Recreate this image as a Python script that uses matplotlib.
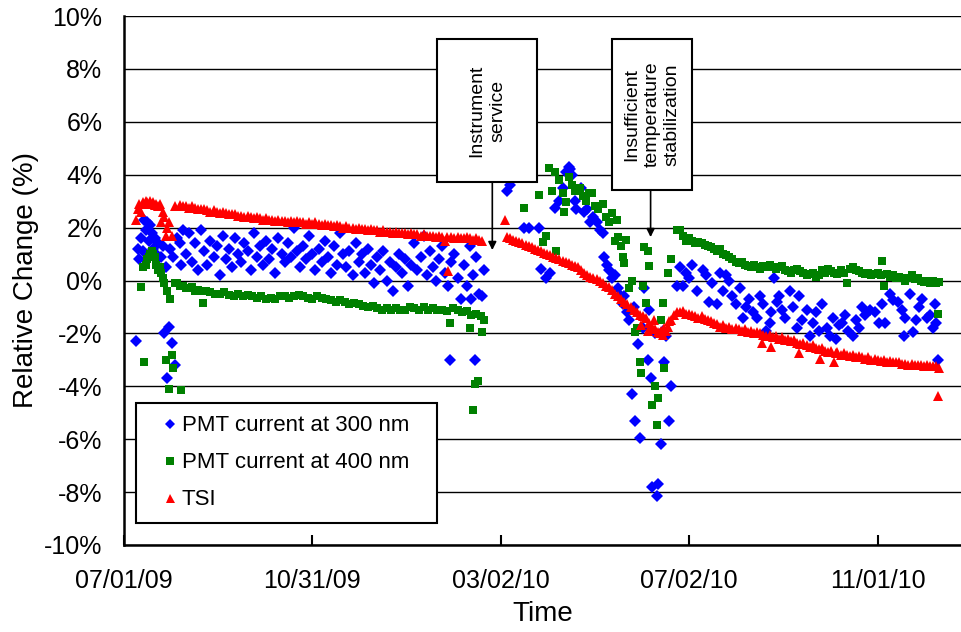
import matplotlib
matplotlib.use("Agg")
import matplotlib.pyplot as plt
from matplotlib.patches import Rectangle

plt.rcParams['font.family'] = ['Liberation Sans', 'DejaVu Sans']

# ---- data (x = days since 07/01/09, y = relative change in %) ----
pmt300_day = [8, 9, 10, 11, 12, 13, 14, 15, 16, 17, 18, 19, 20, 21, 22, 24, 25, 26, 27, 28, 29, 30, 31, 32, 33, 34, 36, 37, 38,
              40, 42, 44, 46, 48, 50, 52, 54, 56, 58, 60, 62, 64, 66, 68, 70, 72, 74, 76, 78, 80, 82, 84, 86, 88, 90, 92, 94, 96, 98,
              100, 102, 104, 106, 108, 110, 112, 114, 116, 118, 120, 122, 124, 126, 128,
              130, 132, 134, 136, 138, 140, 142, 144, 146, 148, 150, 152, 154, 156, 158, 160, 162, 164, 166, 168, 170, 172, 174, 176,
              178, 180, 182, 184, 186, 188, 190, 192, 194, 196, 198, 200, 202, 204, 206, 208, 210, 211, 212, 214, 216, 218, 220, 222,
              224, 225, 226, 227, 228, 230, 232, 233,
              248, 250, 259, 262, 269, 270, 273, 276, 279, 282, 284, 286, 288, 289, 290, 292, 293, 296, 298, 300, 302, 304, 306, 308,
              310, 311, 313, 314, 316, 318, 320, 322, 323, 324, 326, 327, 329, 330, 331, 333, 334, 336, 337, 339, 340, 341, 342, 344,
              345, 346, 348, 349, 350, 351, 353, 354,
              358, 360, 362, 364, 366, 368, 371, 375, 377, 379, 381, 384, 386, 388, 390, 392, 394, 396, 399, 401, 403, 405, 407, 410,
              412, 414, 416, 418, 419, 421, 423, 424, 426, 428, 431, 433, 436, 437, 439, 442, 444, 446, 448, 450, 452, 455, 457, 459,
              461, 463, 465, 467, 469, 472, 474, 476, 478, 480, 483, 486, 489, 491, 493, 496, 498, 501, 504, 505, 506, 509, 511, 513,
              515, 517, 520, 522, 524, 525, 526, 527]
pmt300_val = [-2.3, 1.2, 0.8, 1.6, 1.1, 2.3, 1.9, 2.2, 1.5, 2.1, 1.8, 1.2, 1.6, 1.0, 1.4, 0.9, 1.3, -2.0, 0.5, -3.7, -1.75, 1.2, -2.35, 0.9, -3.2, 1.6, 1.4, 0.6, 1.9,
              1.0, 1.8, 0.7, 1.4, 0.4, 1.9, 1.1, 0.6, 1.5, 0.9, 1.3, 0.2, 1.7, 0.8, 1.2, 0.5, 1.6, 1.0, 0.7, 1.4, 1.1, 0.4, 1.8, 0.9, 1.3, 0.6, 1.5, 0.8, 1.2, 0.3,
              1.6, 1.0, 0.7, 1.4, 0.9, 2.0, 1.1, 0.5, 1.3, 0.8, 1.7, 1.0, 0.4, 1.2, 0.7,
              1.5, 0.9, 0.3, 1.3, 0.6, 1.8, 1.0, 0.5, 1.1, 0.2, 1.4, 0.7, 1.0, 0.3, 1.2, 0.6, -0.1, 0.9, 0.4, 1.1, 0.0, 0.7, -0.4, 0.5,
              1.0, 0.3, 0.8, -0.2, 0.6, 1.4, 0.4, 0.9, 1.7, 0.2, 1.1, 0.5, 0.0, 0.8, 1.3, 0.3, -0.2, -3.0, 0.7, 1.0, 0.1, -0.7, 0.6, -0.2,
              1.3, -0.7, 0.2, -3.0, 0.9, -0.5, -0.6, 0.4,
              3.4, 3.6, 2.0, 2.0, 2.0, 0.45, 0.1, 0.3, 2.75, 3.0, 3.5, 4.1, 4.3, 4.2, 4.0, 3.0, 2.7, 3.5, 2.6, 2.7, 2.2, 2.4, 2.2, 1.9,
              1.8, 0.9, 0.6, 0.4, 0.1, 0.2, -0.3, -0.6, -0.9, -0.6, -1.2, -1.5, -4.3, -1.0, -5.3, -2.4, -5.95, -1.8, -0.3, -3.0, -1.1, -3.7, -7.8, -2.0,
              -8.15, -7.7, -6.2, -1.9, -3.1, -2.1, -5.3, -4.0,
              -0.2, 0.5, -0.2, 0.3, 0.1, 0.6, -0.4, 0.4, 0.2, -0.8, -0.1, -0.9, 0.3, -0.4, 0.2, 0.0, -0.6, -0.9, -0.3, -1.4, -1.0, -0.7, -1.2, -1.4,
              -0.6, -0.9, -1.9, -1.6, -1.2, 0.1, -0.8, -0.6, -1.1, -1.4, -0.4, -1.0, -1.8, -0.6, -1.5, -1.1, -2.1, -1.6, -1.2, -1.9, -0.9, -1.8, -2.1, -1.4,
              -2.2, -1.7, -1.6, -1.3, -1.9, -2.1, -1.5, -1.8, -1.0, -1.3, -1.1, -1.2, -1.6, -0.9, -1.6, -0.5, -0.75, -0.8, -1.1, -2.1, -1.4, -0.5, -1.95, -1.5,
              -1.0, -0.7, -1.4, -1.3, -1.8, -0.9, -1.6, -3.0]

pmt400_day = [11, 12, 13, 14, 15, 16, 17, 18, 19, 20, 21, 22, 23, 24, 25, 26, 27, 28, 29, 30, 31, 32, 33, 34, 36, 37, 38,
              40, 42, 44, 46, 48, 50, 51, 53, 56, 59, 62, 65, 68, 71, 74, 77, 80, 83, 86, 89, 92, 95, 98, 101, 104, 107, 110,
              113, 116, 119, 122, 125, 128, 131, 134, 137, 140, 143, 146, 149, 152, 155, 158, 161, 164, 167, 170, 173, 176,
              179, 182, 185, 188, 191, 194, 197, 200, 203, 206, 209, 211, 213, 216, 219, 222, 224, 225, 226, 227, 228, 229,
              231, 232, 233,
              259, 269, 271, 273, 275, 277, 279, 280, 282, 284, 285, 286, 288, 290, 292, 295, 297, 299, 301, 303, 305, 307,
              310, 312, 314, 316, 318, 319, 320, 322, 323, 324, 325, 327, 329, 331, 332, 334, 335, 336, 337, 338, 339, 340,
              342, 344, 345, 346, 348, 349, 350, 352, 354,
              358, 360, 362, 364, 366, 368, 370, 372, 374, 376, 378, 380, 382, 384, 386, 388, 390, 392, 394, 396, 398, 400,
              402, 404, 406, 408, 410, 412, 414, 416, 418, 420, 422, 424, 426, 428, 430, 432, 434, 436, 438, 440, 442, 444,
              446, 448, 450, 452, 454, 456, 458, 460, 462, 464, 466, 468, 470, 472, 474, 476, 478, 480, 482, 484, 486, 488,
              490, 491, 492, 494, 496, 498, 500, 502, 504, 506, 508, 510, 512, 514, 516, 518, 520, 522, 524, 526, 527, 528]
pmt400_val = [-0.25, 0.5, -3.1, 0.6, 0.8, 0.9, 1.0, 1.1, 1.0, 0.9, 0.6, 0.4, 0.5, 0.3, 0.1, -0.1, -3.0, -0.4, -4.1, -0.7, -2.8, -3.3, -0.1, -0.1, -0.2, -4.15, -0.2,
              -0.3, -0.3, -0.25, -0.4, -0.35, -0.4, -0.85, -0.4, -0.45, -0.5, -0.5, -0.45, -0.55, -0.6, -0.5, -0.6, -0.55, -0.6, -0.65, -0.6, -0.7, -0.65, -0.7, -0.6, -0.6, -0.65, -0.6,
              -0.55, -0.6, -0.65, -0.7, -0.6, -0.65, -0.7, -0.75, -0.8, -0.75, -0.8, -0.9, -0.85, -0.9, -0.95, -1.0, -0.95, -1.05, -1.1, -1.05, -1.1, -1.05,
              -1.1, -1.1, -1.0, -1.05, -1.1, -1.0, -1.1, -1.05, -1.1, -1.1, -1.15, -1.6, -1.05, -1.1, -1.2, -1.15, -1.8, -1.3, -4.9, -3.9, -1.25, -3.8,
              -1.35, -1.95, -1.5,
              2.75, 3.25, 1.45, 1.7, 4.25, 3.4, 4.1, 1.1, 3.8, 3.3, 2.6, 2.95, 3.9, 3.6, 3.4, 3.5, 3.2, 3.0, 3.3, 3.3, 2.8, 2.7,
              2.9, 2.4, 2.2, 2.55, 1.5, 2.3, 1.65, 1.3, 0.9, 0.65, 1.55, -0.3, 0.0, -1.95, -1.8, -3.1, -3.5, -0.2, 1.25, -0.85, 1.1, 0.55,
              -4.7, -4.0, -5.45, -4.45, -1.5, -0.85, -3.3, 0.3, 0.8,
              1.9, 1.9, 1.7, 1.5, 1.6, 1.5, 1.4, 1.45, 1.4, 1.35, 1.3, 1.25, 1.2, 1.1, 1.2, 1.0, 0.95, 0.9, 0.8, 0.7, 0.65, 0.7,
              0.6, 0.55, 0.5, 0.6, 0.5, 0.45, 0.55, 0.5, 0.6, 0.5, 0.45, 0.5, 0.55, 0.4, 0.35, 0.3, 0.4, 0.45, 0.35, 0.3, 0.2, 0.25,
              0.3, 0.15, 0.2, 0.4, 0.3, 0.45, 0.35, 0.3, 0.25, 0.4, 0.3, -0.1, 0.45, 0.5, 0.4, 0.35, 0.3, 0.25, 0.3, 0.2, 0.25, 0.3,
              0.2, 0.75, -0.2, 0.25, 0.15, 0.2, 0.1, 0.15, 0.1, 0.0, 0.1, 0.2, 0.05, 0.1, 0.0, -0.05, 0.0, -0.1, 0.0, -0.1, -1.25, -0.05]

tsi_day = [8, 9, 10, 11, 12, 13, 14, 15, 16, 17, 18, 19, 20, 21, 22, 23, 24, 25, 26, 27, 28, 29, 31,
           33, 36, 38, 40, 42, 44, 46, 48, 50, 52, 54, 56, 58, 60, 62, 64, 66, 68, 70, 72, 74, 76, 78, 80, 82, 84, 86, 88,
           90, 92, 94, 96, 98, 100, 102, 104, 106, 108, 110, 112, 114, 116, 118, 120, 122, 124, 126, 128, 130, 132, 134,
           136, 138, 140, 142, 144, 146, 148, 150, 152, 154, 156, 158, 160, 162, 164, 166, 168, 170, 172, 174, 176, 178,
           180, 182, 184, 186, 188, 190, 192, 194, 196, 198, 200, 202, 204, 206, 208, 209, 210, 212, 214, 216, 218, 220,
           222, 224, 226, 228, 230, 232,
           247, 248, 250, 252, 254, 256, 258, 260, 262, 264, 266, 268, 270, 272, 274, 276, 278, 280, 282, 284, 286, 288,
           290, 292, 294, 296, 298, 300, 302, 304, 306, 308, 310, 312, 314, 316, 318, 320, 322, 324, 326, 328, 330, 332,
           334, 335, 336, 338, 339, 340, 342, 343, 344, 346, 347, 348, 349, 350, 351, 352, 353, 354, 356, 358, 360, 362,
           364, 366, 368, 370, 372,
           374, 376, 378, 380, 382, 384, 386, 388, 390, 392, 394, 396, 398, 400, 402, 404, 406, 408, 410, 412, 413, 414,
           416, 418, 419, 420, 422, 424, 426, 428, 430, 432, 434, 436, 437, 438, 440, 442, 444, 446, 448, 450, 451, 452,
           454, 456, 458, 460, 461, 462, 464, 466, 468, 470, 472, 474, 476, 478, 480, 482, 484, 486, 488, 490, 492, 494,
           496, 498, 500, 502, 504, 506, 508, 510, 512, 514, 516, 518, 520, 522, 524, 526, 527, 528]
tsi_val = [2.3, 2.7, 2.9, 2.6, 2.95, 2.9, 3.0, 2.95, 2.9, 3.0, 2.9, 2.95, 2.85, 2.9, 2.8, 2.9, 2.2, 2.6, 2.4, 1.7, 2.0, 2.2, 1.7,
           2.8, 2.85, 2.8, 2.8, 2.75, 2.8, 2.75, 2.7, 2.7, 2.7, 2.65, 2.6, 2.65, 2.6, 2.55, 2.6, 2.55, 2.5, 2.5, 2.5, 2.45, 2.45, 2.4, 2.45, 2.4, 2.35, 2.4, 2.35,
           2.3, 2.35, 2.3, 2.3, 2.25, 2.3, 2.25, 2.25, 2.2, 2.25, 2.2, 2.25, 2.2, 2.2, 2.15, 2.2, 2.15, 2.2, 2.15, 2.1, 2.15, 2.1, 2.1,
           2.05, 2.1, 2.05, 2.0, 2.05, 2.0, 2.0, 1.95, 2.0, 1.95, 1.95, 1.9, 1.95, 1.9, 1.9, 1.85, 1.9, 1.85, 1.85, 1.8, 1.85, 1.8,
           1.8, 1.8, 1.75, 1.8, 1.75, 1.75, 1.7, 1.75, 1.7, 1.7, 1.7, 1.65, 1.7, 1.65, 1.5, 1.65, 0.35, 1.65, 1.6, 1.65, 1.6, 1.6,
           1.65, 1.6, 1.55, 1.6, 1.55, 1.5,
           2.3, 1.65, 1.6, 1.55, 1.5, 1.45, 1.4, 1.35, 1.3, 1.25, 1.2, 1.15, 1.1, 1.05, 1.0, 0.95, 0.9, 0.85, 0.8, 0.75, 0.7, 0.65,
           0.6, 0.55, 0.5, 0.4, 0.3, 0.2, 0.15, 0.1, 0.05, 0.0, -0.1, -0.2, -0.25, -0.35, -0.5, -0.6, -0.7, -0.8, -0.9, -1.0, -1.1, -1.2,
           -1.3, -1.7, -1.35, -1.4, -1.9, -1.6, -1.75, -1.5, -1.85, -1.95, -2.0, -1.9, -2.05, -1.8, -1.9, -1.75, -1.55, -1.5, -1.3, -1.2, -1.2, -1.15,
           -1.25, -1.25, -1.3, -1.35, -1.4,
           -1.35, -1.45, -1.5, -1.55, -1.6, -1.65, -1.75, -1.7, -1.8, -1.75, -1.85, -1.8, -1.85, -1.9, -1.85, -1.95, -1.9, -2.0, -1.95, -2.0, -2.35, -2.05,
           -2.1, -2.05, -2.5, -2.15, -2.1, -2.2, -2.15, -2.25, -2.2, -2.3, -2.25, -2.35, -2.75, -2.4, -2.35, -2.45, -2.5, -2.45, -2.55, -2.6, -2.95, -2.55,
           -2.65, -2.7, -2.65, -3.1, -2.75, -2.7, -2.8, -2.75, -2.8, -2.85, -2.8, -2.9, -2.85, -2.9, -2.95, -2.9, -3.0, -2.95, -3.0, -3.05, -3.0, -3.1,
           -3.05, -3.1, -3.1, -3.1, -3.15, -3.15, -3.2, -3.15, -3.2, -3.2, -3.2, -3.25, -3.2, -3.25, -3.25, -3.25, -4.35, -3.3]

series_labels = ["PMT current at 300 nm", "PMT current at 400 nm", "TSI"]
x_tick_days = [0, 122, 244, 366, 488]
x_tick_labels = ["07/01/09", "10/31/09", "03/02/10", "07/02/10", "11/01/10"]
y_ticks = [-10, -8, -6, -4, -2, 0, 2, 4, 6, 8, 10]
note_texts = ["Instrument\nservice", "Insufficient\ntemperature\nstabilization"]
note_arrow_day = [238.5, 341]
note_arrow_tip = [1.15, 1.64]

# ---- figure ----
fig = plt.figure(figsize=(9.61, 6.32), dpi=100)
ax = fig.add_axes([124 / 961, 87 / 632, 837 / 961, 529 / 632])

ax.plot(pmt300_day, pmt300_val, linestyle='none', marker='D', markersize=5.8,
        color='#0000FF', markeredgewidth=0, label=series_labels[0], zorder=3)
ax.plot(pmt400_day, pmt400_val, linestyle='none', marker='s', markersize=6.4,
        color='#008000', markeredgewidth=0, label=series_labels[1], zorder=3)
ax.plot(tsi_day, tsi_val, linestyle='none', marker='^', markersize=7.2,
        color='#FF0000', markeredgewidth=0, label=series_labels[2], zorder=3)

ax.set_xlim(0, 542)
ax.set_ylim(-10, 10)
ax.set_xticks(x_tick_days)
ax.set_xticklabels(x_tick_labels)
ax.set_yticks(y_ticks)
ax.set_yticklabels([f"{v}%" for v in y_ticks])

for v in y_ticks:
    ax.axhline(v, color='black', lw=1.0, zorder=1)

for s in ['top', 'right']:
    ax.spines[s].set_visible(False)
for s in ['left', 'bottom']:
    ax.spines[s].set_linewidth(1.8)
    ax.spines[s].set_zorder(4)

ax.tick_params(axis='x', direction='in', length=7, width=1.5, labelsize=18, pad=17)
ax.tick_params(axis='y', direction='out', length=0, width=1.2, labelsize=18, pad=15.5)

ax.set_xlabel("Time", fontsize=20, labelpad=6)
ax.set_ylabel("Relative Change (%)", fontsize=20, labelpad=4)

# annotation boxes
boxes = [(202.9, 3.72, 64.8, 5.41), (316.3, 3.42, 51.2, 5.71)]
for (bx, by, bw, bh), txt, ad, at in zip(boxes, note_texts, note_arrow_day, note_arrow_tip):
    ax.add_patch(Rectangle((bx, by), bw, bh, facecolor='white', edgecolor='black',
                           lw=1.5, zorder=6))
    ax.text(bx + bw / 2, by + bh / 2, txt, rotation=90, ha='center', va='center',
            fontsize=14, multialignment='center', linespacing=1.25, zorder=7)
    ax.annotate("", xy=(ad, at), xytext=(ad, by),
                arrowprops=dict(arrowstyle='-|>', color='black', lw=1.2,
                                mutation_scale=12, shrinkA=0, shrinkB=0), zorder=6)

leg = ax.legend(loc='upper left', bbox_to_anchor=(0.0143, 0.047, 0.36, 0.221),
                mode='expand', fontsize=16, frameon=True, fancybox=False,
                edgecolor='black', framealpha=1, borderpad=0.55, labelspacing=0.72,
                handlelength=2.0, handletextpad=-0.5, borderaxespad=0, markerscale=0.9)
leg.get_frame().set_linewidth(1.5)
leg.set_zorder(8)

fig.savefig("out.png", dpi=100)
